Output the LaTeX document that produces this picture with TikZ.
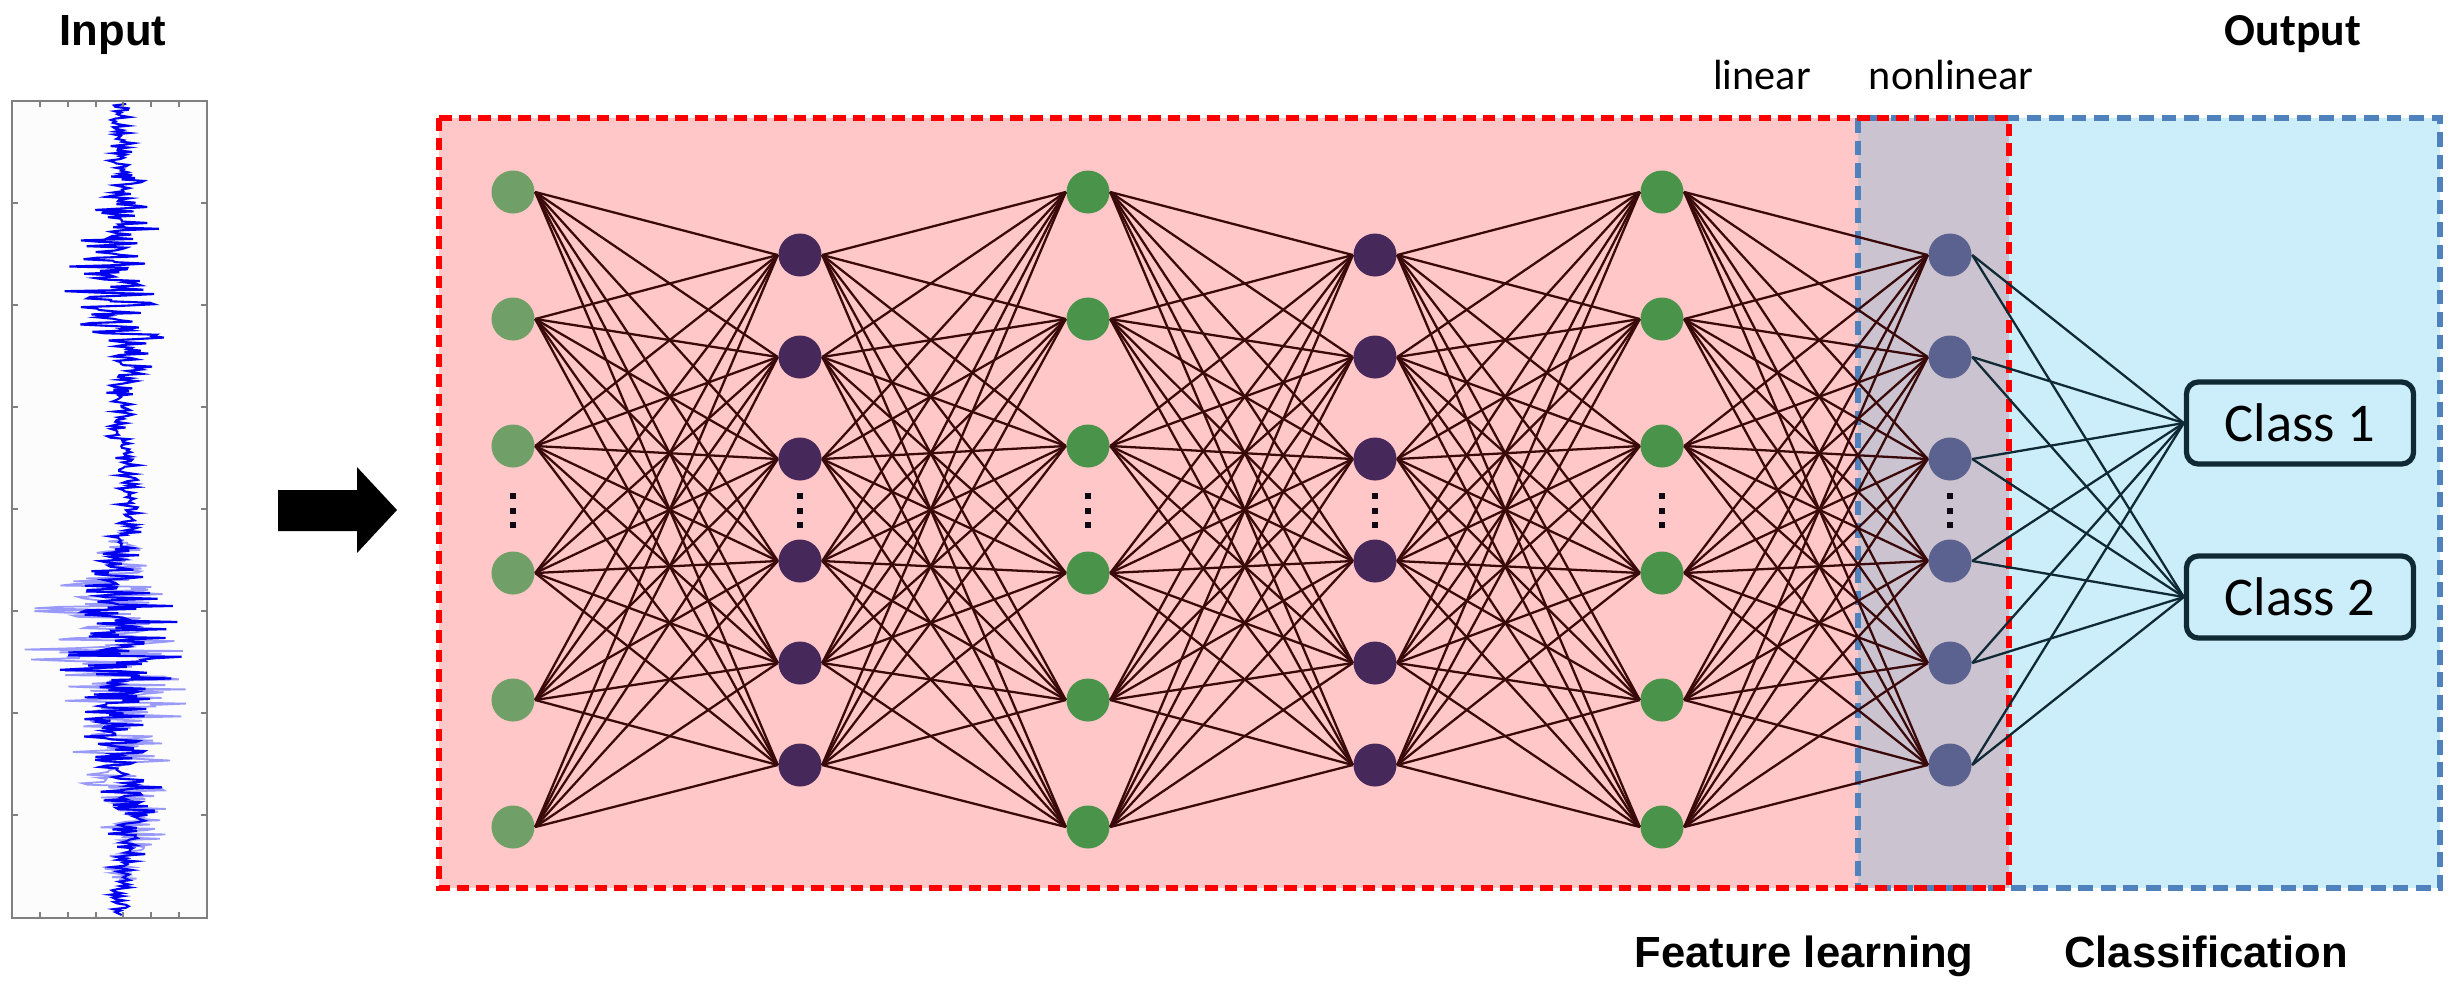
\documentclass[tikz,border=0pt]{standalone}
\usepackage{fontspec}
\setmainfont{Liberation Sans}
\newfontfamily\calfont{Carlito}
\usetikzlibrary{positioning}
\definecolor{pinkbg}{HTML}{FFC7C7}
\definecolor{cyanbg}{HTML}{CCEEFA}
\definecolor{mixbg}{HTML}{CBC3D0}
\definecolor{redline}{HTML}{FF0000}
\definecolor{blueline}{HTML}{4F81BD}
\definecolor{greenl}{HTML}{70A068}
\definecolor{greend}{HTML}{4A934A}
\definecolor{purpled}{HTML}{47285A}
\definecolor{slate}{HTML}{5B6290}
\definecolor{wire}{HTML}{3A0A0A}
\definecolor{wireb}{HTML}{102A35}
\definecolor{sigblue}{HTML}{0000F0}
\tikzset{
    mynode/.style = {circle, inner sep=0pt, minimum size=0.43cm},
    mynodeg/.style = {mynode, fill=greenl},
    mynodegd/.style = {mynode, fill=greend},
    mynodep/.style = {mynode, fill=purpled},
    mynodes/.style = {mynode, fill=slate},
    edgen/.style = {-, line width=0.65pt, wire},
    edgeb/.style = {-, line width=0.65pt, wireb},
    classbox/.style = {rectangle, rounded corners=0.12cm, line width=1.5pt, draw=wireb, fill=cyanbg, minimum width=2.27cm, minimum height=0.82cm, font=\calfont\fontsize{15.5}{18}\selectfont},
    headlbl/.style = {font=\bfseries\fontsize{12.4}{14}\selectfont, anchor=base, inner sep=0pt},
    sublbl/.style = {font=\calfont\fontsize{12}{14}\selectfont, anchor=base, inner sep=0pt},
    redbox/.style = {draw=redline, line width=1.7pt, dash pattern=on 3.6pt off 2pt},
    bluebox/.style = {draw=blueline, line width=1.7pt, dash pattern=on 4.2pt off 2.2pt},
}

\begin{document}
\begin{tikzpicture}[x=0.01cm, y=-0.01cm,
  declare function={g(\u,\m,\s)=exp(max(-9,0-((\u-\m)/\s)^2));
    env(\u)=10+38*g(\u,280,85)+52*g(\u,650,75)+18*g(\u,790,50);
    cx(\u)=122+6*sin(2.3*\u)+5*sin(0.9*\u+40);}]
  \useasboundingbox (0,0) rectangle (2457,993);

  % input signal
  \node[headlbl] (input) at (113,45) {Input};
  \fill[black!1] (12,101) rectangle (207,918);
  \begin{scope}
    \clip (12,101) rectangle (207,918);
    \pgfmathsetseed{3}
    \draw[sigblue!40, line width=0.5pt] plot[variable=\t, domain=540:880, samples=240] ({cx(\t)+1.4*env(\t)*(rand+rand+rand)/3*1.6}, \t);
    \draw[sigblue, line width=0.6pt] plot[variable=\t, domain=104:915, samples=560] ({cx(\t)+env(\t)*(rand+rand)/2*1.3}, \t);
  \end{scope}
  \draw[gray, line width=0.6pt] (12,101) rectangle (207,918);
  \foreach \tx in {40,68,96,123,151,179} {
    \draw[gray, line width=0.5pt] (\tx,101) -- (\tx,107);
    \draw[gray, line width=0.5pt] (\tx,918) -- (\tx,912);
  }
  \foreach \ty in {203,305,407,509,611,713,815} {
    \draw[gray, line width=0.5pt] (12,\ty) -- (18,\ty);
    \draw[gray, line width=0.5pt] (207,\ty) -- (201,\ty);
  }

  % block arrow
  \fill[black] (278,490) -- (357,490) -- (357,467) -- (397,510) -- (357,553) -- (357,531) -- (278,531) -- cycle;

  % regions
  \fill[pinkbg] (439,118) rectangle (2009,888);
  \fill[cyanbg] (1858,118) rectangle (2440,888);
  \fill[mixbg] (1858,118) rectangle (2009,888);
  \draw[bluebox] (1858,118) rectangle (2440,888);
  \draw[redbox] (439,118) rectangle (2009,888);

  \node[sublbl] (lin) at (1762,89) {linear};
  \node[sublbl] (nonlin) at (1951,89) {nonlinear};
  \node[font=\calfont\bfseries\fontsize{13}{15}\selectfont, anchor=base, inner sep=0pt] (output) at (2293,45) {Output};
  \node[headlbl] (feat) at (1804,967) {Feature learning};
  \node[headlbl] (cls) at (2206,967) {Classification};

  % layers
  \foreach \k in {1,...,6} {
    \pgfmathsetmacro{\gy}{65+127*\k}
    \pgfmathsetmacro{\py}{153+102*\k}
    \node[mynodeg]  (a\k) at (513,\gy) {};
    \node[mynodep]  (b\k) at (800,\py) {};
    \node[mynodegd] (c\k) at (1088,\gy) {};
    \node[mynodep]  (d\k) at (1375,\py) {};
    \node[mynodegd] (e\k) at (1662,\gy) {};
    \node[mynodes]  (f\k) at (1950,\py) {};
  }
  \node[classbox] (class1) at (2300,423) {Class 1};
  \node[classbox] (class2) at (2300,597) {Class 2};

  \foreach \s/\t in {a/b,b/c,c/d,d/e,e/f}
    \foreach \i in {1,...,6}
      \foreach \j in {1,...,6}
        \draw[edgen] (\s\i.east) -- (\t\j.west);
  \foreach \i in {1,...,6} {
    \draw[edgeb] (f\i.east) -- (class1.west);
    \draw[edgeb] (f\i.east) -- (class2.west);
  }

  % dots
  \foreach \lx in {513,800,1088,1375,1662,1950}
    \foreach \dy in {496,511,525}
      \fill[black!80!purpled] (\lx-3,\dy-3) rectangle (\lx+3,\dy+3);
\end{tikzpicture}
\end{document}
